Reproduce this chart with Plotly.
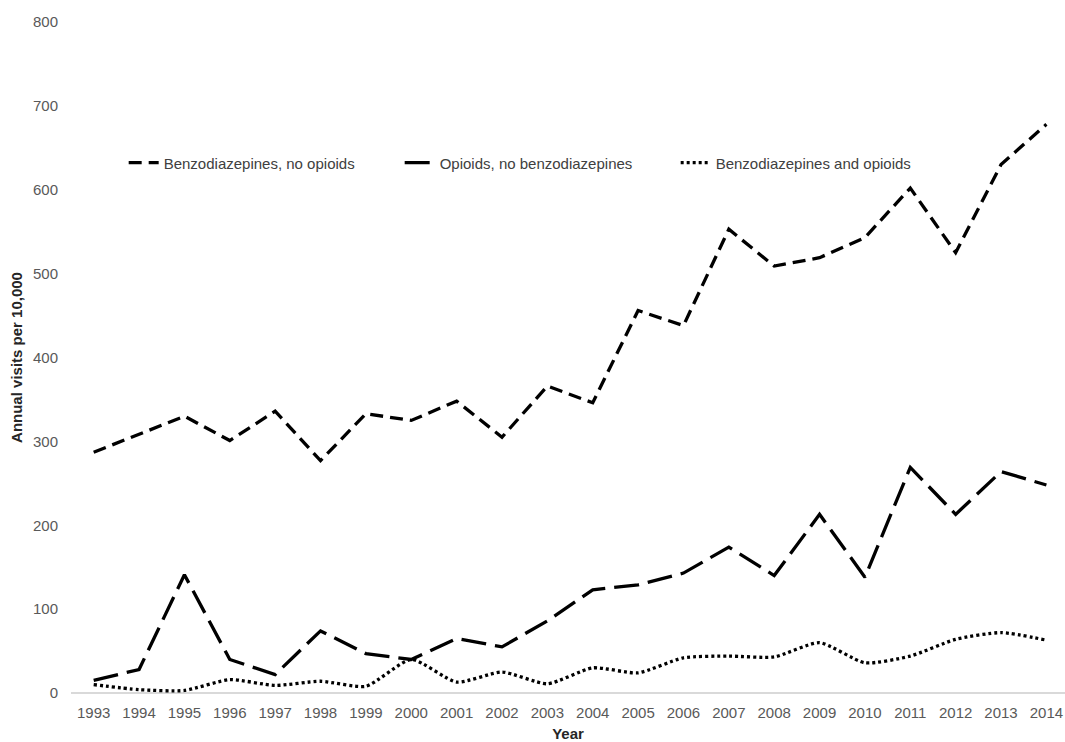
import plotly.graph_objects as go

years = list(range(1993, 2015))
benzo_no_opioids = [287, 308, 330, 301, 336, 277, 333, 325, 348, 305, 366, 346,
                    456, 438, 553, 509, 519, 543, 602, 525, 630, 678]
opioids_no_benzo = [15, 28, 141, 40, 22, 74, 47, 40, 65, 55, 86, 123,
                    129, 143, 174, 140, 213, 138, 269, 213, 264, 248]
benzo_and_opioids = [10, 4, 3, 16, 9, 14, 8, 40, 13, 25, 11, 30,
                     24, 42, 44, 43, 60, 36, 44, 64, 72, 63]

series = [
    ("Benzodiazepines, no opioids", benzo_no_opioids, "13px,7px", "linear"),
    ("Opioids, no benzodiazepines", opioids_no_benzo, "25px,9px", "linear"),
    ("Benzodiazepines and opioids", benzo_and_opioids, "3px,3px", "spline"),
]

fig = go.Figure()
for name, vals, dash, shape in series:
    line = dict(color="black", width=3.3, dash=dash, shape=shape)
    if shape == "spline":
        line["smoothing"] = 0.6
    fig.add_trace(go.Scatter(x=years, y=vals, name=name, mode="lines", line=line))

fig.update_layout(
    width=1065, height=742,
    margin=dict(l=71, r=0, t=22, b=49),
    paper_bgcolor="white", plot_bgcolor="white",
    font=dict(family="Liberation Sans, Arial, sans-serif", size=15, color="#595959"),
    showlegend=True,
    legend=dict(
        orientation="h", x=0.053, y=0.79, xanchor="left", yanchor="middle",
        bgcolor="rgba(0,0,0,0)", font=dict(size=15, color="#404040"),
        entrywidth=231, entrywidthmode="pixels",
    ),
    xaxis=dict(
        range=[1992.5, 2014.41], tickvals=years, ticktext=[str(y) for y in years],
        showgrid=False, zeroline=False, showline=False, ticks="",
        ticklabelstandoff=9,
        title=dict(text="<b>Year</b>", font=dict(size=15, color="#262626"), standoff=9),
    ),
    yaxis=dict(
        range=[0, 800], tickvals=[0, 100, 200, 300, 400, 500, 600, 700, 800],
        showgrid=False, zeroline=True, zerolinecolor="#d9d9d9", zerolinewidth=1.5,
        showline=False, ticks="", ticklabelstandoff=12,
        title=dict(text="<b>Annual visits per 10,000</b>", font=dict(size=15, color="#262626"), standoff=6),
    ),
)

fig.write_html(
    "out.html",
    config={"displayModeBar": False},
    post_script="document.body.style.margin='0';document.body.style.overflow='hidden';",
)
